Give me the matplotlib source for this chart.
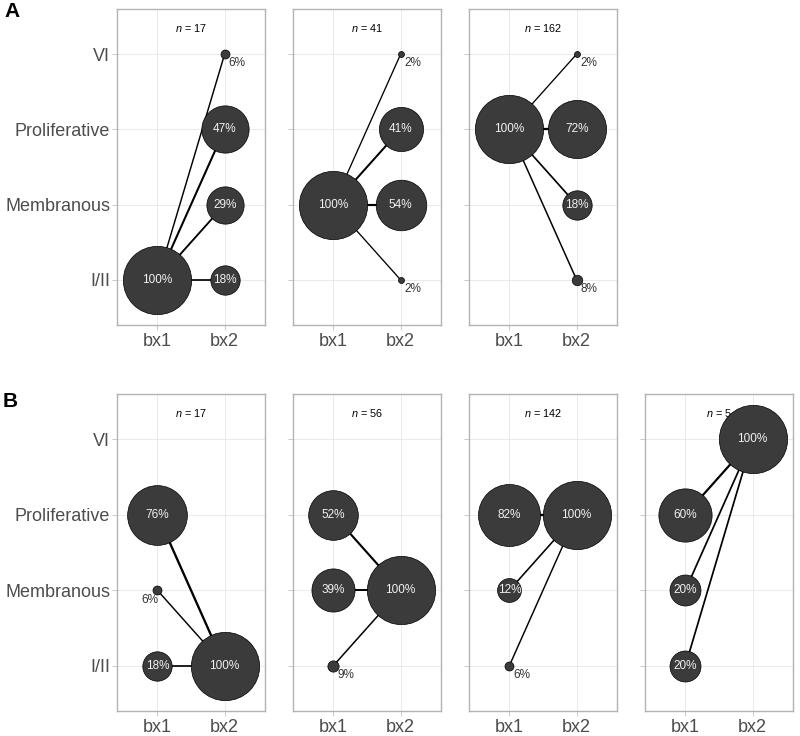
import numpy as np
import matplotlib
matplotlib.use("Agg")
import matplotlib.pyplot as plt

plt.rcParams['font.family'] = ['Liberation Sans', 'DejaVu Sans']
plt.rcParams['mathtext.fontset'] = 'custom'
plt.rcParams['mathtext.it'] = 'Liberation Sans:italic'
plt.rcParams['mathtext.rm'] = 'Liberation Sans'

# ---------------- data ----------------
categories = ["I/II", "Membranous", "Proliferative", "VI"]
timepoints = ["bx1", "bx2"]

# Row A: all patients start in one class at bx1 (100%), distribution at bx2
row_a_n = [17, 41, 162]
row_a_start = ["I/II", "Membranous", "Proliferative"]
row_a_bx2 = [[18, 29, 47, 6],
             [2, 54, 41, 2],
             [8, 18, 72, 2]]

# Row B: all patients end in one class at bx2 (100%), distribution at bx1
row_b_n = [17, 56, 142, 5]
row_b_end = ["I/II", "Membranous", "Proliferative", "VI"]
row_b_bx1 = [[18, 6, 76, 0],
             [9, 39, 52, 0],
             [6, 12, 82, 0],
             [20, 20, 60, 0]]

# ---------------- style helpers ----------------
DPI = 100
FILL = '#3b3b3b'


def diam_px(p):
    if p >= 10:
        return 3 + 65.3 * np.sqrt((p - 2) / 98.0)
    return 4.5 + 0.75 * p


def marker_s(p):
    d_pt = diam_px(p) * 72.0 / DPI
    return d_pt ** 2


def line_w(p):
    return 0.8 + 1.0 * np.sqrt(p / 100.0)


fig = plt.figure(figsize=(8.0, 7.36), dpi=DPI)

col_left = [117, 293, 469, 645]
panel_w = 148
rows = [(9, 325), (394, 711)]
W, H = 800.0, 736.0


def make_ax(row, col):
    top, bot = rows[row]
    ax = fig.add_axes([col_left[col] / W, 1 - bot / H, panel_w / W, (bot - top) / H])
    ax.set_xlim(0.4, 2.6)
    ax.set_ylim(0.4, 4.6)
    ax.set_xticks([1, 2])
    ax.set_xticklabels(timepoints)
    ax.set_yticks([1, 2, 3, 4])
    if col == 0:
        ax.set_yticklabels(categories)
    else:
        ax.set_yticklabels([])
    ax.tick_params(axis='both', length=3.8, width=0.5, color='#b3b3b3',
                   labelcolor='#4d4d4d', labelsize=13)
    ax.tick_params(axis='y', pad=1.2)
    ax.tick_params(axis='x', pad=1.8)
    ax.grid(True, color='#e6e6e6', linewidth=0.6, zorder=0)
    ax.set_axisbelow(True)
    for s in ax.spines.values():
        s.set_color('#b3b3b3')
        s.set_linewidth(1.0)
    return ax


def draw_panel(ax, anchor_x, anchor_cat, other_x, pcts, n, outside_left=()):
    ay = categories.index(anchor_cat) + 1
    # lines
    for i, p in enumerate(pcts):
        if p <= 0:
            continue
        ax.plot([anchor_x, other_x], [ay, i + 1], color='black',
                linewidth=line_w(p), zorder=2, solid_capstyle='butt')
    # anchor circle
    ax.scatter([anchor_x], [ay], s=marker_s(100), color=FILL, edgecolors='black',
               linewidths=0.5, zorder=3)
    ax.text(anchor_x, ay, "100%", ha='center', va='center', fontsize=8.5,
            color='#f2f2f2', zorder=4)
    for i, p in enumerate(pcts):
        if p <= 0:
            continue
        ax.scatter([other_x], [i + 1], s=marker_s(p), color=FILL, edgecolors='black',
                   linewidths=0.5, zorder=3)
        if p >= 10:
            ax.text(other_x, i + 1, f"{p}%", ha='center', va='center', fontsize=8.5,
                    color='#f2f2f2', zorder=4)
        else:
            if i in outside_left:
                ax.annotate(f"{p}%", (other_x, i + 1), xytext=(1, -7),
                            textcoords='offset points', ha='right', va='center',
                            fontsize=8.5, color='#333333', zorder=4)
            else:
                ax.annotate(f"{p}%", (other_x, i + 1), xytext=(3, -6.5),
                            textcoords='offset points', ha='left', va='center',
                            fontsize=8.5, color='#333333', zorder=4)
    ax.text(1.5, 4.35, rf"$n$ = {n}", ha='center', va='center', fontsize=7.8,
            color='black', zorder=1)


for c in range(3):
    ax = make_ax(0, c)
    draw_panel(ax, 1, row_a_start[c], 2, row_a_bx2[c], row_a_n[c])

for c in range(4):
    ax = make_ax(1, c)
    left = (1,) if c == 0 else ()
    draw_panel(ax, 2, row_b_end[c], 1, row_b_bx1[c], row_b_n[c], outside_left=left)

fig.text(4 / W, 1 - 2 / H, "A", fontsize=15, fontweight='bold', ha='left', va='top')
fig.text(3 / W, 1 - 392 / H, "B", fontsize=15, fontweight='bold', ha='left', va='top')

fig.savefig("out.png", dpi=DPI)
